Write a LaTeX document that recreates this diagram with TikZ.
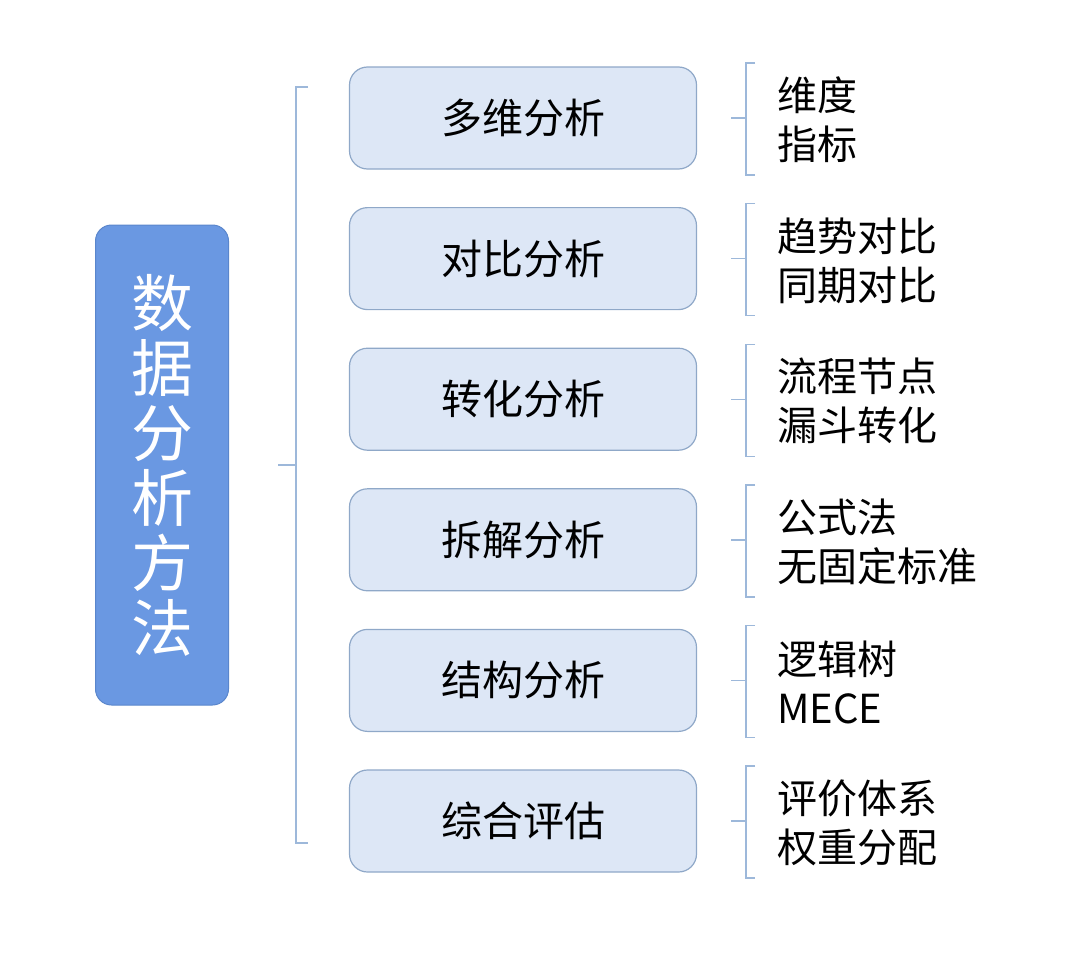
\documentclass[tikz,border=0pt]{standalone}
\usepackage{fontspec}
\setmainfont{Noto Sans CJK SC}
\usetikzlibrary{positioning}
\definecolor{mainblue}{HTML}{6A98E2}
\definecolor{mainedge}{HTML}{5A86CC}
\definecolor{boxfill}{HTML}{DDE7F6}
\definecolor{boxedge}{HTML}{8FA8C8}
\definecolor{brace}{HTML}{9DB8DA}
\tikzset{
  mainbox/.style={draw=mainedge, fill=mainblue, rounded corners=16pt, line width=1pt,
    minimum width=133pt, minimum height=480pt, text=white, align=center, inner sep=0pt,
    font=\fontsize{62}{65}\selectfont},
  methodbox/.style={draw=boxedge, fill=boxfill, rounded corners=18pt, line width=1.2pt,
    minimum width=347pt, minimum height=102pt, font=\fontsize{41}{44}\selectfont},
  itemtext/.style={anchor=west, align=left, inner sep=0pt, font=\fontsize{40}{49}\selectfont},
  bracket/.style={draw=brace, line width=1.4pt}
}
\begin{document}
\begin{tikzpicture}[x=1pt,y=-1pt]
\useasboundingbox (0,0) rectangle (1080,964);
% Nodes
	\node [mainbox] (main) at (162,465) {数\\据\\分\\析\\方\\法};
	\foreach \name/\label/\first/\second [count=\i from 0] in {
	    dim/多维分析/维度/指标,
	    cmp/对比分析/趋势对比/同期对比,
	    conv/转化分析/流程节点/漏斗转化,
	    split/拆解分析/公式法/无固定标准,
	    struct/结构分析/逻辑树/MECE,
	    eval/综合评估/评价体系/权重分配}{
	  \node [methodbox] (\name) at (523,118+140.6*\i) {\label};
	  \node [itemtext] (\name-items) at (777,120+140.6*\i) {\first\\\second};
	  % right brackets
	  \coordinate (\name-top) at (755,118+140.6*\i-55);
	  \coordinate (\name-bot) at (755,118+140.6*\i+57);
	  \coordinate (\name-tip) at (731,118+140.6*\i);
	  \draw [bracket] (\name-top) -- ++(-9,0) |- (\name-bot);
	  \draw [bracket] (\name-tip) -- ++(15,0);
	}
% Left bracket
	\coordinate (top) at (308,87);
	\coordinate (bot) at (308,843);
	\coordinate (tip) at (278,465);
	\draw [bracket] (top) -- ++(-12,0) |- (bot);
	\draw [bracket] (tip) -- ++(18,0);
\end{tikzpicture}
\end{document}
